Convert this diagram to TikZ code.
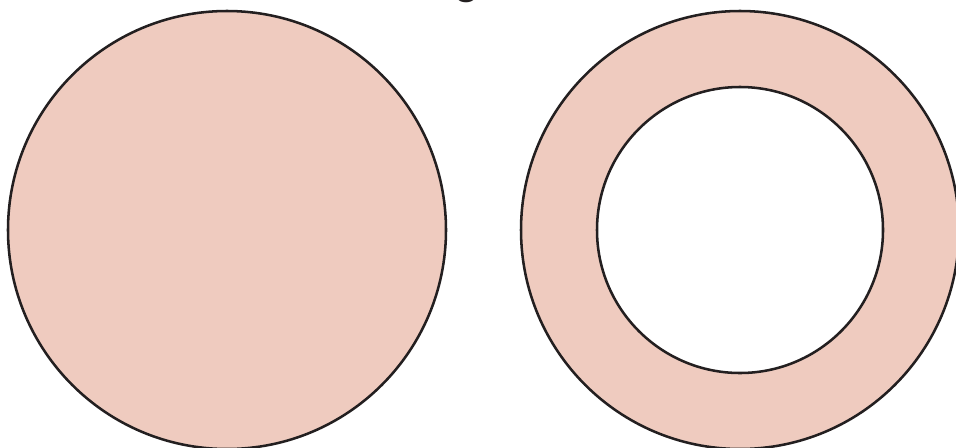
\documentclass[tikz,border=0pt]{standalone}
\usepackage{fontspec}
\setmainfont{Lato}
\usepackage{xcolor}
\usepackage{tikz}
\definecolor{discpink}{HTML}{EFCBBF}
\definecolor{rimdark}{HTML}{231F20}

\begin{document}
\begin{tikzpicture}[x=0.75pt,y=-0.75pt]
  \useasboundingbox (0,0) rectangle (956,447);
  \begin{scope}
    \clip (0,0) rectangle (956,447);
    \node[anchor=base,font=\fontsize{30}{33}\selectfont,text=rimdark,inner sep=0pt] (lbl) at (467,-5) {g};
    \draw[line width=1.9pt,rimdark,fill=discpink] (227,230) circle[radius=219];
    \draw[line width=1.9pt,rimdark,fill=discpink,even odd rule] (740,230) circle[radius=219] (740,230) circle[radius=143];
  \end{scope}
\end{tikzpicture}
\end{document}
